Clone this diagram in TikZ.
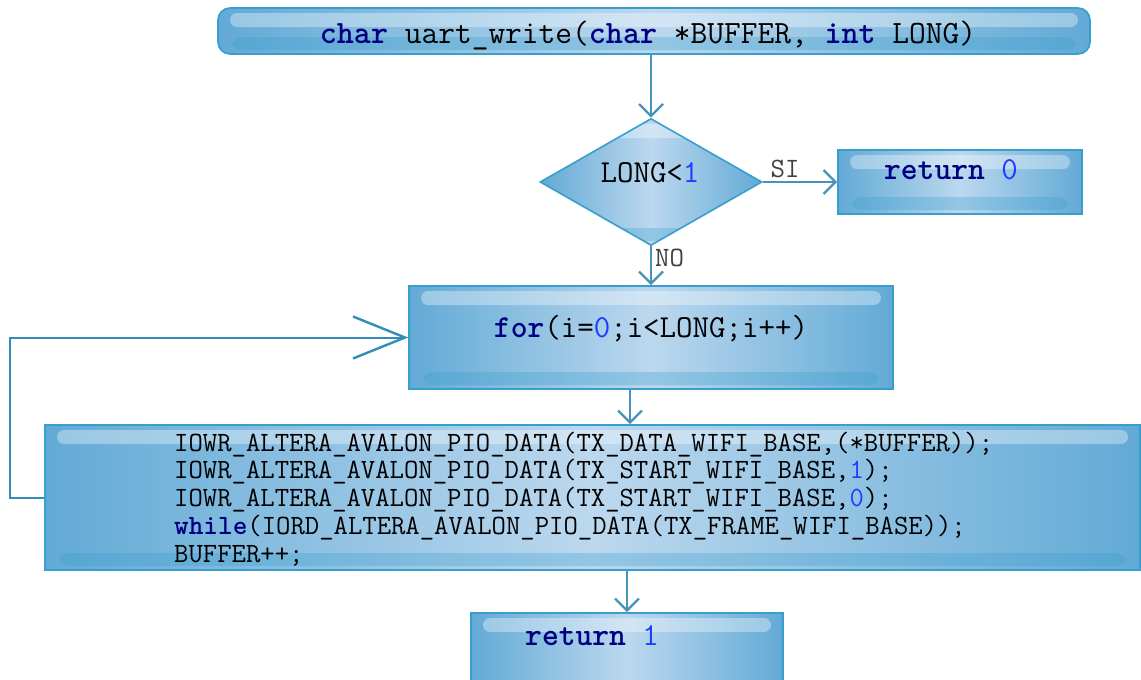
\documentclass[tikz,border=0pt]{standalone}
\usepackage{fontspec}
\usetikzlibrary{arrows.meta,shapes.geometric}
\definecolor{boxedge}{RGB}{55,158,205}
\definecolor{boxside}{RGB}{98,170,214}
\definecolor{boxmid}{RGB}{188,216,238}
\definecolor{linkblue}{RGB}{72,145,185}
\definecolor{kwblue}{RGB}{0,0,128}
\definecolor{numblue}{RGB}{30,60,255}
\newcommand{\kwd}[1]{\textcolor{kwblue}{\textbf{#1}}}
\newcommand{\numb}[1]{\textcolor{numblue}{#1}}

\begin{document}
\begin{tikzpicture}[x=1pt, y=-1pt,
	glass/.style = {draw=boxedge, line width=1.6pt, inner sep=0pt,
		left color=boxside, right color=boxside, middle color=boxmid,
		path picture={
			\fill[white, opacity=.35, rounded corners=7pt]
				([shift={(12pt,-5pt)}]path picture bounding box.north west) rectangle
				([shift={(-12pt,-19pt)}]path picture bounding box.north east);
			\fill[boxedge, opacity=.3, rounded corners=9pt]
				([shift={(14pt,4pt)}]path picture bounding box.south west) rectangle
				([shift={(-14pt,17pt)}]path picture bounding box.south east);}},
	block/.style = {glass, rectangle},
	decision/.style = {glass, diamond},
	code/.style = {inner sep=0pt, text=black, font=\fontsize{32}{36}\selectfont\ttfamily},
	small/.style = {inner sep=3pt, text=black!75, font=\fontsize{28}{32}\selectfont\ttfamily},
	link/.style = {draw=linkblue, line width=2.4pt,
		-{Straight Barb[length=12pt, width=24pt]}},
	back/.style = {draw=boxedge!90!black, line width=2pt,
		-{Straight Barb[length=52pt, width=42pt, line width=2.4pt]}}]
	\clip (0,0) rectangle (1141,680);

	\node[block, rounded corners=12pt, minimum width=872, minimum height=46] (head) at (654,31) {};
	\node[code, font=\fontsize{32.5}{36}\selectfont\ttfamily] (headtxt) at (648,35)
		{\kwd{char} uart\_write(\kwd{char} *BUFFER, \kwd{int} LONG)};

	\node[decision, minimum width=222, minimum height=127] (test) at (651,182) {};
	\node[code] (testtxt) at (650,173) {LONG<\numb{1}};

	\node[block, minimum width=244, minimum height=64] (ret0) at (960,182) {};
	\node[code] (ret0txt) at (951,170) {\kwd{return} \numb{0}};

	\node[block, minimum width=484, minimum height=103] (loop) at (651,337.5) {};
	\node[code] (looptxt) at (651,329) {\kwd{for}(i=\numb{0};i<LONG;i++)};

	\node[block, minimum width=1095, minimum height=145] (body) at (592.5,497.5) {};
	\node[code, anchor=west, align=left, font=\fontsize{27.9}{27.8}\selectfont\ttfamily] (bodytxt) at (174,499)
		{IOWR\_ALTERA\_AVALON\_PIO\_DATA(TX\_DATA\_WIFI\_BASE,(*BUFFER));\\
		IOWR\_ALTERA\_AVALON\_PIO\_DATA(TX\_START\_WIFI\_BASE,\numb{1});\\
		IOWR\_ALTERA\_AVALON\_PIO\_DATA(TX\_START\_WIFI\_BASE,\numb{0});\\
		\kwd{while}(IORD\_ALTERA\_AVALON\_PIO\_DATA(TX\_FRAME\_WIFI\_BASE));\\
		BUFFER++;};

	\node[block, minimum width=312, minimum height=100] (ret1) at (627,663) {};
	\node[code, anchor=west] (ret1txt) at (525,636) {\kwd{return} \numb{1}};

	\draw[link] (test.north |- head.south) -- (test.north);
	\draw[link] (test.east) -- node[small, pos=.3, above] {SI} (ret0.west);
	\draw[link] (test.south) -- node[small, pos=.3, right] {NO} (loop.north);
	\draw[link] ([xshift=-21pt]loop.south) -- ([xshift=-21pt]loop.south |- body.north);
	\draw[link] (ret1.north |- body.south) -- (ret1.north);
	\draw[back] (body.west) -- ++(-34,0) |- (loop.west);
\end{tikzpicture}
\end{document}
